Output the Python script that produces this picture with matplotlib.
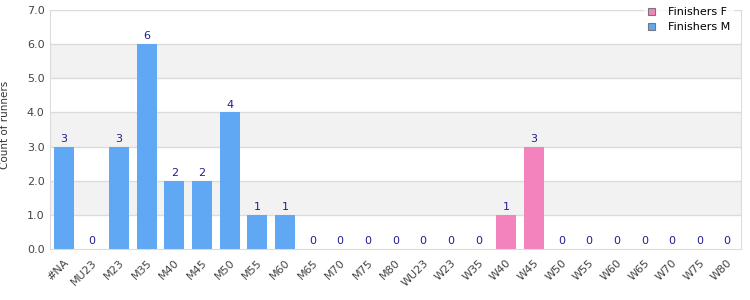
import numpy as np
import matplotlib.pyplot as plt

# ── data ──────────────────────────────────────────────────────────────────────
categories = ["#NA", "MU23", "M23", "M35", "M40", "M45", "M50", "M55", "M60",
              "M65", "M70", "M75", "M80", "WU23", "W23", "W35", "W40", "W45",
              "W50", "W55", "W60", "W65", "W70", "W75", "W80"]
finishers_m = [3, 0, 3, 6, 2, 2, 4, 1, 1, 0, 0, 0, 0,
               0, 0, 0, 0, 0, 0, 0, 0, 0, 0, 0, 0]
finishers_f = [0, 0, 0, 0, 0, 0, 0, 0, 0, 0, 0, 0, 0,
               0, 0, 0, 1, 3, 0, 0, 0, 0, 0, 0, 0]
y_ticks = [0, 1, 2, 3, 4, 5, 6, 7]

col_m = "#60a8f4"
col_f = "#f283bd"
grid_col = "#dcdcdc"
band_col = "#f2f2f2"

fig = plt.figure(figsize=(7.5, 3), dpi=100)
ax = fig.add_axes([50 / 750, 51 / 300, 691 / 750, 239 / 300])

x = np.arange(len(categories))
m = np.array(finishers_m)
f = np.array(finishers_f)

# alternating bands
for lo in range(1, 7, 2):
    ax.axhspan(lo, lo + 1, color=band_col, zorder=0, lw=0)
for t in y_ticks[1:]:
    ax.axhline(t, color=grid_col, lw=1, zorder=0.5)

ax.bar(x, f, width=0.72, color=col_f, zorder=2, label="Finishers F")
ax.bar(x, m, width=0.72, bottom=f, color=col_m, zorder=2, label="Finishers M")

for xi, tot in zip(x, m + f):
    ax.annotate(str(tot), (xi, tot), xytext=(0, 2), textcoords="offset points",
                ha="center", va="bottom", fontsize=8, color="#1f1f8f")

ax.set_xlim(-0.5, len(categories) - 0.5)
ax.set_ylim(0, 7)
ax.set_yticks(y_ticks)
ax.set_yticklabels([f"{t:.1f}" for t in y_ticks])
ax.set_xticks(x)
ax.set_xticklabels(categories, rotation=45, ha="right", rotation_mode="anchor")
ax.tick_params(length=0, labelsize=8, colors="#444444", pad=4)
ax.tick_params(axis="x", pad=6)
for s in ax.spines.values():
    s.set_color(grid_col)
ax.set_ylabel("Count of runners", fontsize=7.5, color="#333333")
ax.yaxis.set_label_coords(-0.058, 0.52)

leg = fig.legend(loc="upper right", bbox_to_anchor=(0.985, 1.005), fontsize=8,
                 frameon=True, handlelength=0.7, handleheight=0.7,
                 labelspacing=0.45, borderpad=0.3, handletextpad=1.1,
                 fancybox=False)
leg.get_frame().set_edgecolor("white")
for h in leg.legend_handles:
    h.set_edgecolor("#777777")
    h.set_linewidth(0.8)

fig.savefig("out.png", dpi=100)
